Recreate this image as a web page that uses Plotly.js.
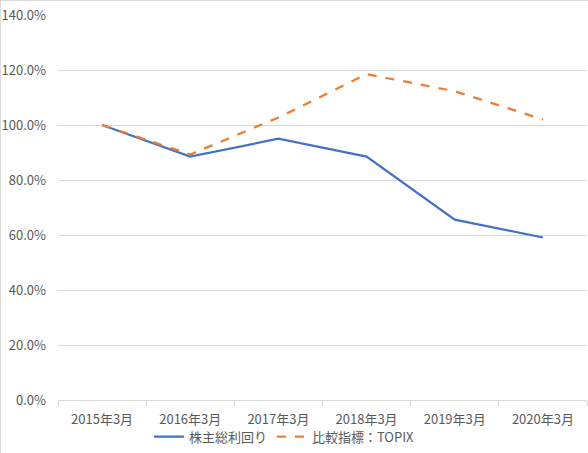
<!DOCTYPE html>
<html><head><meta charset="utf-8">
<script src="https://cdn.plot.ly/plotly-3.0.1.min.js"></script>
<style>html,body{margin:0;padding:0;background:#fff;} #chart{width:588px;height:453px;box-sizing:border-box;border-left:1px solid #d9d9d9;border-top:1px solid #d9d9d9;}</style>
</head><body><div id="chart"></div>
<script>
const categories = ["2015年3月","2016年3月","2017年3月","2018年3月","2019年3月","2020年3月"];
const tsrValues = [100.0, 88.5, 95.0, 88.5, 65.6, 59.1];
const topixValues = [100.0, 89.3, 102.7, 118.5, 112.3, 102.0];
const seriesNames = ["株主総利回り", "比較指標：TOPIX"];
const yTicks = [0,20,40,60,80,100,120,140];

const font = {family: "'Noto Sans CJK JP', 'Noto Sans', sans-serif", size: 13, color: "#595959"};
const traces = [
  {x: categories, y: tsrValues, name: seriesNames[0], type: "scatter", mode: "lines",
   line: {color: "#4472C4", width: 2.25}},
  {x: categories, y: topixValues, name: seriesNames[1], type: "scatter", mode: "lines",
   line: {color: "#ED7D31", width: 2.25, dash: "dash"}}
];
const layout = {
  width: 587, height: 452,
  margin: {l: 57, r: 1, t: 14, b: 51},
  paper_bgcolor: "#fff", plot_bgcolor: "#fff",
  font: font,
  showlegend: true,
  legend: {orientation: "h", x: 0.428, xanchor: "center", y: -0.095, yanchor: "middle",
           bgcolor: "rgba(0,0,0,0)", font: font, itemwidth: 30, tracegroupgap: 0},
  xaxis: {type: "category", range: [-0.5, 5.5], showgrid: false, zeroline: false,
          showline: true, linecolor: "#d9d9d9", linewidth: 1,
          ticks: "outside", tickson: "boundaries", ticklen: 5, tickcolor: "#d9d9d9",
          tickfont: font, ticklabelstandoff: 7, fixedrange: true},
  yaxis: {range: [0, 140], tickvals: yTicks, ticktext: yTicks.map(v => v.toFixed(1) + "%"),
          showgrid: true, gridcolor: "#d9d9d9", gridwidth: 1, zeroline: false,
          showline: false, ticks: "", tickfont: font, ticklabelstandoff: 11, fixedrange: true}
};
Plotly.newPlot("chart", traces, layout, {displayModeBar: false, staticPlot: true});
</script></body></html>
